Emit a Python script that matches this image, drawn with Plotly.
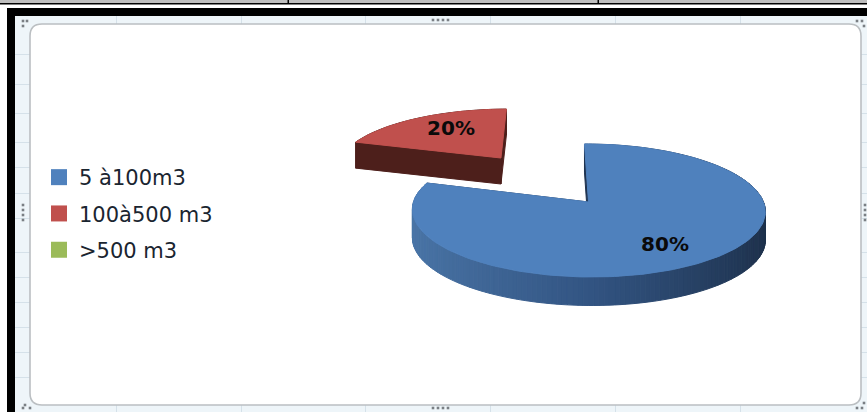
import numpy as np
import plotly.graph_objects as go

# ---- data ----
categories = ["5 à100m3", "100à500 m3", ">500 m3"]
shares = [80, 20, 0]
pct_labels = ["80%", "20%", ""]
top_colors = ["#4F81BD", "#C0504D", "#9BBB59"]

# ---- projection of the tilted disc onto the page (pixel axes) ----
CX, CY = 588.5, 202.0
RX, RY = 175.0, 65.4
PERSP = 0.128
SKEW = -3.0
DEPTH = [28.5, 26.0, 0.0]
START = -0.5
PULL = [0.0, 0.91, 0.0]
PULL_TURN = [0.0, 0.5, 0.0]
LABEL_R = [0.73, 0.66, 0.0]
LABEL_TURN = [4.0, 3.6, 0.0]


def proj(u, v):
    d = 1 + PERSP * v
    return CX + (RX * u + SKEW * v) / d, CY - RY * v / d


def disc(theta, r, offs):
    t = np.radians(theta)
    return r * np.sin(t) + offs[0], r * np.cos(t) + offs[1]


def css(a):
    return "rgb(%d,%d,%d)" % tuple(np.round(a))


fig = go.Figure()


def poly(xs, ys, color):
    fig.add_trace(go.Scatter(x=list(xs), y=list(ys), mode="lines", fill="toself",
                             fillcolor=color, line=dict(color=color, width=1),
                             hoverinfo="skip", showlegend=False))


def side_color(i, u):
    if i == 1:
        return "#4D1F1B"
    s = (np.clip(u, -1, 1) + 1) / 2
    a, b, c = np.array([74, 117, 167.]), np.array([50, 84, 130.]), np.array([29, 48, 74.])
    return css(a + (b - a) * s * 2 if s < .5 else b + (c - b) * (s - .5) * 2)


angle = START
label_pos = []
for i, share in enumerate(shares):
    span = share * 3.6
    mid = angle + span / 2
    tp = np.radians(mid + PULL_TURN[i])
    offs = (PULL[i] * np.sin(tp), PULL[i] * np.cos(tp))
    if share > 0:
        th = np.linspace(angle, angle + span, max(int(span / 1.5), 6) + 1)
        ux, vx = disc(th, 1.0, offs)
        px, py = proj(ux, vx)
        ax, ay = proj(*offs)
        dp = DEPTH[i]
        # outer wall, drawn back to front
        order = np.argsort(vx[:-1])[::-1]
        for k in order:
            poly([px[k], px[k + 1], px[k + 1], px[k], px[k]],
                 [py[k], py[k + 1], py[k + 1] + dp, py[k] + dp, py[k]],
                 side_color(i, (ux[k] + ux[k + 1]) / 2 - offs[0]))
        # cut faces
        cut = "#1F3350" if i == 0 else "#4D1F1B"
        for e in (0, -1):
            poly([ax, px[e], px[e], ax, ax],
                 [ay, py[e], py[e] + dp, ay + dp, ay], cut)
        # top face
        poly(np.r_[ax, px, ax], np.r_[ay, py, ay], top_colors[i])
        tl = np.radians(mid + LABEL_TURN[i])
        label_pos.append(proj(offs[0] + LABEL_R[i] * np.sin(tl), offs[1] + LABEL_R[i] * np.cos(tl)))
    else:
        label_pos.append((None, None))
    angle += span

for i, name in enumerate(categories):
    fig.add_trace(go.Scatter(x=[None], y=[None], mode="markers", name=name, legendgroup=name,
                             marker=dict(symbol="square", size=16, color=top_colors[i]),
                             hoverinfo="skip"))

for i, txt in enumerate(pct_labels):
    if txt:
        fig.add_trace(go.Scatter(x=[label_pos[i][0]], y=[label_pos[i][1]], mode="text", text=[txt],
                                 textposition="middle center", showlegend=False, hoverinfo="skip",
                                 textfont=dict(family="DejaVu Sans", size=20, color="#0a0a0a", weight="bold")))

# ---- worksheet and chart frame behind the pie ----
shapes = []


def rect(x0, y0, x1, y1, fill):
    shapes.append(dict(type="rect", xref="x", yref="y", x0=x0, y0=y0, x1=x1, y1=y1,
                       fillcolor=fill, line=dict(width=0), layer="below"))


rect(0, 0, 867, 3, "#BEBEBE")
rect(0, 3, 867, 4.4, "#000000")
rect(287.5, 0, 289, 4, "#000000")
rect(597.5, 0, 599, 4, "#000000")
rect(7, 8, 867, 16, "#000000")
rect(7, 8, 15, 412, "#000000")
rect(15, 16, 867, 412, "#EEF5F9")
for gx in [116, 241, 365, 490, 615, 740]:
    rect(gx, 16, gx + 1, 24, "#D5E1E9")
    rect(gx, 405, gx + 1, 412, "#D5E1E9")
for gy in [54, 84, 113, 142, 167, 193, 218, 252, 277, 302, 327, 352, 377]:
    rect(15, gy, 30, gy + 1, "#D5E1E9")
    rect(861, gy, 867, gy + 1, "#D5E1E9")
shapes.append(dict(type="path", xref="x", yref="y", layer="below",
                   path="M 42 24 L 849 24 Q 861 24 861 36 L 861 393 Q 861 405 849 405 "
                        "L 42 405 Q 30 405 30 393 L 30 36 Q 30 24 42 24 Z",
                   fillcolor="#FFFFFF", line=dict(color="#BBBFC2", width=1.6)))
for hx, hy in [(23, 21), (27, 21), (23, 26), (433, 20), (438, 20), (443, 20), (448, 20),
               (857, 21), (862, 21), (864, 26), (23, 205), (23, 210), (23, 215), (23, 220),
               (865, 205), (865, 210), (865, 215), (865, 220), (433, 408), (438, 408),
               (443, 408), (448, 408), (25, 405), (23, 408), (30, 408), (857, 408), (862, 408),
               (864, 403)]:
    rect(hx - 1.3, hy - 1.3, hx + 1.3, hy + 1.3, "#7A7F84")

fig.update_layout(
    width=867, height=412, margin=dict(l=0, r=0, t=0, b=0),
    paper_bgcolor="#FFFFFF", plot_bgcolor="#FFFFFF", shapes=shapes,
    xaxis=dict(range=[0, 867], visible=False, fixedrange=True),
    yaxis=dict(range=[412, 0], visible=False, fixedrange=True),
    showlegend=True,
    legend=dict(x=39 / 867, y=1 - 157 / 412, xanchor="left", yanchor="top", tracegroupgap=6,
                bgcolor="rgba(0,0,0,0)", font=dict(family="DejaVu Sans", size=21, color="#1A2530")),
)
fig.write_html("out.html", post_script="document.body.style.margin='0';",
               config=dict(displayModeBar=False))
